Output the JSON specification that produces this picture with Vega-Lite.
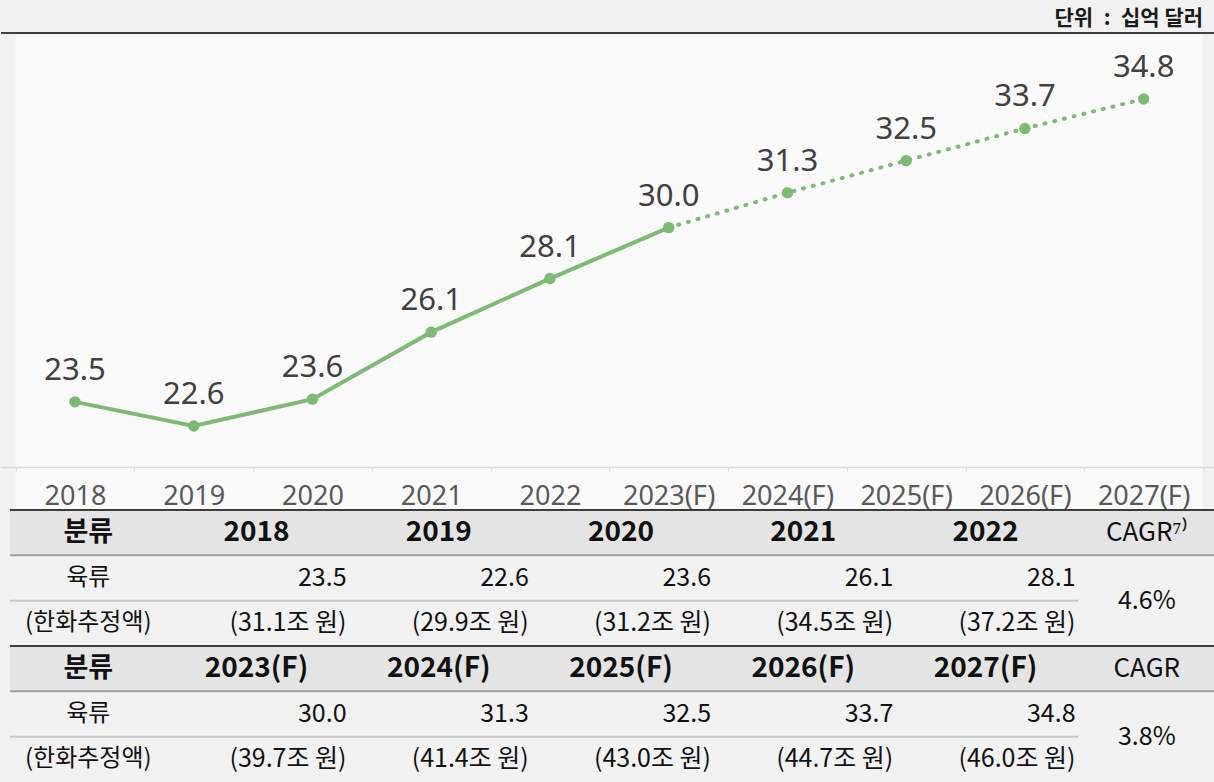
{
  "$schema": "https://vega.github.io/schema/vega-lite/v6.json",
  "padding": 0,
  "spacing": 0,
  "bounds": "flush",
  "background": "#f2f2f2",
  "config": {"view": {"stroke": null}},
  "datasets": {
    "series": [
      {"year": "2018", "value": 23.5},
      {"year": "2019", "value": 22.6},
      {"year": "2020", "value": 23.6},
      {"year": "2021", "value": 26.1},
      {"year": "2022", "value": 28.1},
      {"year": "2023(F)", "value": 30.0},
      {"year": "2024(F)", "value": 31.3},
      {"year": "2025(F)", "value": 32.5},
      {"year": "2026(F)", "value": 33.7},
      {"year": "2027(F)", "value": 34.8}
    ],
    "cells": [
      {"role": "head", "row": "h1", "col": 0, "text": "분류"},
      {"role": "head", "row": "h1", "col": 1, "text": "2018"},
      {"role": "head", "row": "h1", "col": 2, "text": "2019"},
      {"role": "head", "row": "h1", "col": 3, "text": "2020"},
      {"role": "head", "row": "h1", "col": 4, "text": "2021"},
      {"role": "head", "row": "h1", "col": 5, "text": "2022"},
      {"role": "head", "row": "h1", "col": 6, "text": "CAGR⁷⁾"},
      {"role": "label", "row": "a1", "col": 0, "text": "육류"},
      {"role": "label", "row": "b1", "col": 0, "text": "(한화추정액)"},
      {"role": "value", "row": "a1", "col": 1, "text": "23.5"},
      {"role": "value", "row": "a1", "col": 2, "text": "22.6"},
      {"role": "value", "row": "a1", "col": 3, "text": "23.6"},
      {"role": "value", "row": "a1", "col": 4, "text": "26.1"},
      {"role": "value", "row": "a1", "col": 5, "text": "28.1"},
      {"role": "value", "row": "b1", "col": 1, "text": "(31.1조 원)"},
      {"role": "value", "row": "b1", "col": 2, "text": "(29.9조 원)"},
      {"role": "value", "row": "b1", "col": 3, "text": "(31.2조 원)"},
      {"role": "value", "row": "b1", "col": 4, "text": "(34.5조 원)"},
      {"role": "value", "row": "b1", "col": 5, "text": "(37.2조 원)"},
      {"role": "cagr", "row": "a1", "col": 6, "text": "4.6%"},
      {"role": "head", "row": "h2", "col": 0, "text": "분류"},
      {"role": "head", "row": "h2", "col": 1, "text": "2023(F)"},
      {"role": "head", "row": "h2", "col": 2, "text": "2024(F)"},
      {"role": "head", "row": "h2", "col": 3, "text": "2025(F)"},
      {"role": "head", "row": "h2", "col": 4, "text": "2026(F)"},
      {"role": "head", "row": "h2", "col": 5, "text": "2027(F)"},
      {"role": "head", "row": "h2", "col": 6, "text": "CAGR"},
      {"role": "label", "row": "a2", "col": 0, "text": "육류"},
      {"role": "label", "row": "b2", "col": 0, "text": "(한화추정액)"},
      {"role": "value", "row": "a2", "col": 1, "text": "30.0"},
      {"role": "value", "row": "a2", "col": 2, "text": "31.3"},
      {"role": "value", "row": "a2", "col": 3, "text": "32.5"},
      {"role": "value", "row": "a2", "col": 4, "text": "33.7"},
      {"role": "value", "row": "a2", "col": 5, "text": "34.8"},
      {"role": "value", "row": "b2", "col": 1, "text": "(39.7조 원)"},
      {"role": "value", "row": "b2", "col": 2, "text": "(41.4조 원)"},
      {"role": "value", "row": "b2", "col": 3, "text": "(43.0조 원)"},
      {"role": "value", "row": "b2", "col": 4, "text": "(44.7조 원)"},
      {"role": "value", "row": "b2", "col": 5, "text": "(46.0조 원)"},
      {"role": "cagr", "row": "a2", "col": 6, "text": "3.8%"}
    ]
  },
  "vconcat": [
    {
      "width": 1214,
      "height": 510,
      "layer": [
        {
          "data": {"values": [{}]},
          "mark": {"type": "rect", "fill": "#fafafa"},
          "encoding": {
            "x": {
              "datum": "2018", "type": "nominal", "bandPosition": 0,
              "scale": {
                "domain": ["2018", "2019", "2020", "2021", "2022", "2023(F)", "2024(F)", "2025(F)", "2026(F)", "2027(F)"],
                "paddingInner": 0, "paddingOuter": 0.112, "align": 0.55
              },
              "axis": {
                "title": null, "orient": "bottom", "offset": -43, "zindex": 1,
                "domainColor": "#d9d9d9", "domainWidth": 1.5,
                "tickColor": "#dedede", "tickBand": "extent", "tickSize": 4, "tickWidth": 1.2,
                "labelFont": "Noto Sans", "labelFontSize": 27, "labelColor": "#595959",
                "labelPadding": 12, "labelAngle": 0, "grid": false
              }
            },
            "x2": {"datum": "2027(F)", "bandPosition": 1},
            "y": {
              "datum": 37.263, "type": "quantitative",
              "scale": {"domain": [19.464, 38.494], "nice": false, "zero": false},
              "axis": null
            },
            "y2": {"datum": 19.464}
          }
        },
        {
          "data": {"values": [{}]},
          "mark": {"type": "rule", "stroke": "#404040", "strokeWidth": 2},
          "encoding": {"y": {"datum": 37.263, "type": "quantitative"}}
        },
        {
          "data": {"values": [{}]},
          "mark": {"type": "text", "align": "right", "baseline": "alphabetic", "font": "Noto Sans CJK KR", "fontWeight": "bold", "fontSize": 21, "color": "#1a1a1a"},
          "encoding": {
            "x": {"datum": "2027(F)", "type": "nominal", "bandPosition": 1},
            "y": {"datum": 37.55, "type": "quantitative"},
            "text": {"value": "단위\u2002:\u2002십억 달러"}
          }
        },
        {
          "data": {"name": "series"},
          "transform": [{"filter": {"field": "year", "oneOf": ["2018", "2019", "2020", "2021", "2022", "2023(F)"]}}],
          "mark": {"type": "line", "stroke": "#7dba73", "strokeWidth": 4},
          "encoding": {
            "x": {"field": "year", "type": "nominal", "sort": null},
            "y": {"field": "value", "type": "quantitative"}
          }
        },
        {
          "data": {"name": "series"},
          "transform": [{"filter": {"field": "year", "oneOf": ["2023(F)", "2024(F)", "2025(F)", "2026(F)", "2027(F)"]}}],
          "mark": {"type": "line", "stroke": "#7dba73", "strokeWidth": 4, "strokeDash": [1, 9], "strokeCap": "round"},
          "encoding": {
            "x": {"field": "year", "type": "nominal", "sort": null},
            "y": {"field": "value", "type": "quantitative"}
          }
        },
        {
          "data": {"name": "series"},
          "mark": {"type": "circle", "size": 130, "color": "#7dba73", "opacity": 1},
          "encoding": {
            "x": {"field": "year", "type": "nominal", "sort": null},
            "y": {"field": "value", "type": "quantitative"}
          }
        },
        {
          "data": {"name": "series"},
          "mark": {"type": "text", "baseline": "alphabetic", "dy": -22, "font": "Noto Sans", "fontSize": 31, "color": "#404040"},
          "encoding": {
            "x": {"field": "year", "type": "nominal", "sort": null},
            "y": {"field": "value", "type": "quantitative"},
            "text": {"field": "value", "type": "quantitative", "format": ".1f"}
          }
        }
      ]
    },
    {
      "width": 1214,
      "height": 272,
      "data": {"name": "cells"},
      "layer": [
        {
          "transform": [{"filter": "datum.role == 'head' && datum.col == 0"}],
          "mark": {"type": "rect", "fill": "#e4e4e4"},
          "encoding": {
            "x": {"datum": -0.353, "type": "quantitative", "scale": {"domain": [-0.402, 6.259], "nice": false, "zero": false}, "axis": null},
            "x2": {"datum": 6.259},
            "y": {"field": "row", "type": "nominal", "scale": {"domain": ["h1", "a1", "b1", "h2", "a2", "b2"], "paddingInner": 0, "paddingOuter": 0}, "axis": null}
          }
        },
        {
          "transform": [{"filter": "datum.role == 'head' && datum.col == 0"}],
          "mark": {"type": "rule", "stroke": "#3c3c3c", "strokeWidth": 2},
          "encoding": {
            "x": {"datum": -0.353, "type": "quantitative"},
            "x2": {"datum": 6.259},
            "y": {"field": "row", "type": "nominal", "bandPosition": 0}
          }
        },
        {
          "transform": [{"filter": "datum.role == 'head' && datum.col == 0"}],
          "mark": {"type": "rule", "stroke": "#a0a0a0", "strokeWidth": 2},
          "encoding": {
            "x": {"datum": -0.353, "type": "quantitative"},
            "x2": {"datum": 6.259},
            "y": {"field": "row", "type": "nominal", "bandPosition": 1}
          }
        },
        {
          "transform": [{"filter": "datum.role == 'label' && (datum.row == 'a1' || datum.row == 'a2')"}],
          "mark": {"type": "rule", "stroke": "#c8c8c8", "strokeWidth": 2},
          "encoding": {
            "x": {"datum": -0.353, "type": "quantitative"},
            "x2": {"datum": 5.51},
            "y": {"field": "row", "type": "nominal", "bandPosition": 1}
          }
        },
        {
          "transform": [{"filter": "datum.role == 'head' && datum.col == 0"}],
          "mark": {"type": "text", "dx": 14, "font": "Noto Sans CJK KR", "fontWeight": "bold", "fontSize": 27, "color": "#111111"},
          "encoding": {
            "x": {"field": "col", "type": "quantitative"},
            "y": {"field": "row", "type": "nominal"},
            "text": {"field": "text"}
          }
        },
        {
          "transform": [{"filter": "datum.role == 'head' && datum.col >= 1 && datum.col <= 5"}],
          "mark": {"type": "text", "font": "Noto Sans CJK KR", "fontWeight": "bold", "fontSize": 28, "color": "#111111"},
          "encoding": {
            "x": {"field": "col", "type": "quantitative"},
            "y": {"field": "row", "type": "nominal"},
            "text": {"field": "text"}
          }
        },
        {
          "transform": [{"filter": "datum.role == 'head' && datum.col == 6"}],
          "mark": {"type": "text", "dx": -21, "font": "Noto Sans CJK KR", "fontSize": 26, "color": "#111111"},
          "encoding": {
            "x": {"field": "col", "type": "quantitative"},
            "y": {"field": "row", "type": "nominal"},
            "text": {"field": "text"}
          }
        },
        {
          "transform": [{"filter": "datum.role == 'label'"}],
          "mark": {"type": "text", "dx": 14, "font": "Noto Sans CJK KR", "fontSize": 24, "color": "#111111"},
          "encoding": {
            "x": {"field": "col", "type": "quantitative"},
            "y": {"field": "row", "type": "nominal"},
            "text": {"field": "text"}
          }
        },
        {
          "transform": [{"filter": "datum.role == 'value'"}],
          "mark": {"type": "text", "align": "right", "dx": 90, "font": "Noto Sans CJK KR", "fontSize": 25, "color": "#111111"},
          "encoding": {
            "x": {"field": "col", "type": "quantitative"},
            "y": {"field": "row", "type": "nominal"},
            "text": {"field": "text"}
          }
        },
        {
          "transform": [{"filter": "datum.role == 'cagr'"}],
          "mark": {"type": "text", "dx": -21, "font": "Noto Sans CJK KR", "fontSize": 25, "color": "#111111"},
          "encoding": {
            "x": {"field": "col", "type": "quantitative"},
            "y": {"field": "row", "type": "nominal", "bandPosition": 1},
            "text": {"field": "text"}
          }
        }
      ]
    }
  ]
}
